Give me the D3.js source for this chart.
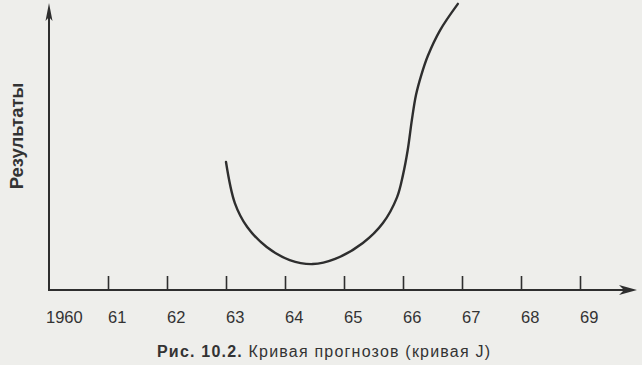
<!DOCTYPE html>
<html><head><meta charset="utf-8">
<script src="https://cdn.jsdelivr.net/npm/d3@7"></script>
<style>
html,body{margin:0;padding:0;background:#eeeeeb;}
svg{display:block;}
</style></head>
<body>
<script>
const tickYears = [1960,1961,1962,1963,1964,1965,1966,1967,1968,1969];
const tickLabels = ["1960","61","62","63","64","65","66","67","68","69"];
const curveYears = [1963.00,1963.15,1963.36,1963.69,1964.08,1964.47,1964.85,1965.32,1965.66,1965.90,1966.00,1966.08,1966.15,1966.22,1966.31,1966.42,1966.63,1966.93];
const curveValues = [44.9,30.5,22.1,15.1,10.5,9.1,10.9,16.5,23.5,32.6,40.4,49.1,59.6,68.4,75.4,82.1,91.2,100.4];
const yTitle = "Результаты";
const captionBold = "Рис. 10.2.";
const captionRest = " Кривая прогнозов (кривая J)";

const W=642,H=365;
const svg=d3.select("body").append("svg").attr("width",W).attr("height",H);
const ink="#2e2e2e";
const font="Liberation Sans, Arial, sans-serif";
const x=d3.scaleLinear().domain([1960,1970]).range([49,639]);
const y=d3.scaleLinear().domain([0,100]).range([290,5]);

// axes lines
const g=svg.append("g");
g.append("line").attr("x1",x(1960)).attr("x2",632).attr("y1",y(0)).attr("y2",y(0)).attr("stroke",ink).attr("stroke-width",2);
g.append("line").attr("x1",x(1960)).attr("x2",x(1960)).attr("y1",y(0)+1).attr("y2",10).attr("stroke",ink).attr("stroke-width",2);
// arrowheads
g.append("path").attr("d",`M637,${y(0)} L619,${y(0)-5} L624,${y(0)} L619,${y(0)+5} Z`).attr("fill",ink);
g.append("path").attr("d",`M${x(1960)},3 L${x(1960)-3.5},21 L${x(1960)},17 L${x(1960)+3.5},21 Z`).attr("fill",ink);

// ticks
const xAxis=d3.axisTop(x).tickValues(tickYears.slice(1)).tickSize(14).tickFormat("");
const ax=svg.append("g").attr("transform",`translate(0,${y(0)})`).call(xAxis);
ax.select(".domain").remove();
ax.selectAll(".tick line").attr("stroke",ink).attr("stroke-width",1.6);

// tick labels
svg.append("g").selectAll("text").data(tickYears).join("text")
  .attr("x",(d,i)=>x(d)+(i===0?-3:0)).attr("y",323)
  .attr("font-family",font).attr("font-size",16.5)
  .attr("fill","#333").attr("text-anchor","start")
  .text((d,i)=>tickLabels[i]);

// curve
const line=d3.line().x((d,i)=>x(curveYears[i])).y(d=>y(d)).curve(d3.curveCatmullRom.alpha(0.5));
svg.append("path").attr("d",line(curveValues)).attr("fill","none").attr("stroke",ink).attr("stroke-width",2.4).attr("stroke-linecap","round");

// y title
svg.append("text").attr("transform","translate(23,136) rotate(-90)")
  .attr("text-anchor","middle").attr("font-family",font)
  .attr("font-weight","bold").attr("font-size",18.5).attr("fill","#333").text(yTitle);

// caption
const cap=svg.append("text").attr("x",157).attr("y",357).attr("text-anchor","start")
  .attr("font-family",font).attr("font-size",16).attr("fill","#333")
  .attr("textLength",333).attr("lengthAdjust","spacing");
cap.append("tspan").attr("font-weight","bold").text(captionBold);
cap.append("tspan").text(captionRest);
</script>
</body></html>
